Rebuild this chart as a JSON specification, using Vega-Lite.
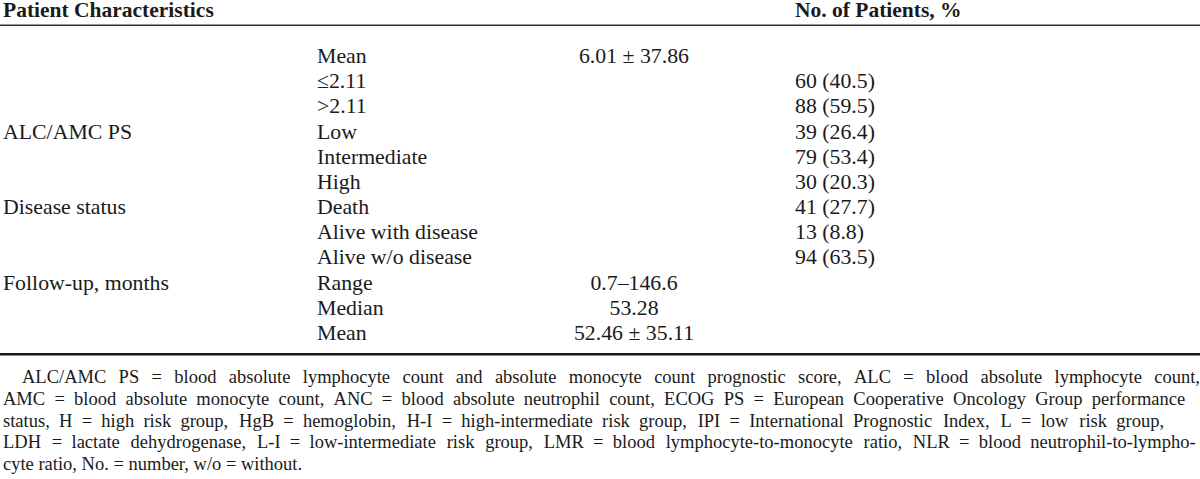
{
  "$schema": "https://vega.github.io/schema/vega-lite/v6.json",
  "width": 1200,
  "height": 479,
  "autosize": {"type": "none"},
  "padding": 0,
  "background": "white",
  "config": {"view": {"stroke": null}},
  "datasets": {
    "header": [
      {"row": 0, "col": 1, "text": "Patient Characteristics"},
      {"row": 0, "col": 4, "text": "No. of Patients, %"}
    ],
    "body": [
      {"row": 1, "col": 2, "text": "Mean"},
      {"row": 1, "col": 3, "text": "6.01 ± 37.86"},
      {"row": 2, "col": 2, "text": "≤2.11"},
      {"row": 2, "col": 4, "text": "60 (40.5)"},
      {"row": 3, "col": 2, "text": ">2.11"},
      {"row": 3, "col": 4, "text": "88 (59.5)"},
      {"row": 4, "col": 1, "text": "ALC/AMC PS"},
      {"row": 4, "col": 2, "text": "Low"},
      {"row": 4, "col": 4, "text": "39 (26.4)"},
      {"row": 5, "col": 2, "text": "Intermediate"},
      {"row": 5, "col": 4, "text": "79 (53.4)"},
      {"row": 6, "col": 2, "text": "High"},
      {"row": 6, "col": 4, "text": "30 (20.3)"},
      {"row": 7, "col": 1, "text": "Disease status"},
      {"row": 7, "col": 2, "text": "Death"},
      {"row": 7, "col": 4, "text": "41 (27.7)"},
      {"row": 8, "col": 2, "text": "Alive with disease"},
      {"row": 8, "col": 4, "text": "13 (8.8)"},
      {"row": 9, "col": 2, "text": "Alive w/o disease"},
      {"row": 9, "col": 4, "text": "94 (63.5)"},
      {"row": 10, "col": 1, "text": "Follow-up, months"},
      {"row": 10, "col": 2, "text": "Range"},
      {"row": 10, "col": 3, "text": "0.7–146.6"},
      {"row": 11, "col": 2, "text": "Median"},
      {"row": 11, "col": 3, "text": "53.28"},
      {"row": 12, "col": 2, "text": "Mean"},
      {"row": 12, "col": 3, "text": "52.46 ± 35.11"}
    ],
    "rules": [
      {"row": 0.18, "kind": "thin"},
      {"row": 12.33, "kind": "thick"}
    ],
    "notes": [
      {"row": 13, "col": 1, "first": true, "text": "ALC/AMC\u2002\u2006PS\u2002\u2006=\u2002\u2006blood\u2002\u2006absolute\u2002\u2006lymphocyte\u2002\u2006count\u2002\u2006and\u2002\u2006absolute\u2002\u2006monocyte\u2002\u2006count\u2002\u2006prognostic\u2002\u2006score,\u2002\u2006ALC\u2002\u2006=\u2002\u2006blood\u2002\u2006absolute\u2002\u2006lymphocyte\u2002\u2006count,"},
      {"row": 14, "col": 1, "first": false, "text": "AMC\u2002=\u2002blood\u2002absolute\u2002monocyte\u2002count,\u2002ANC\u2002=\u2002blood\u2002absolute\u2002neutrophil\u2002count,\u2002ECOG\u2002PS\u2002=\u2002European\u2002Cooperative\u2002Oncology\u2002Group\u2002performance"},
      {"row": 15, "col": 1, "first": false, "text": "status,\u2002H\u2002=\u2002high\u2002risk\u2002group,\u2002\u200aHgB\u2002=\u2002hemoglobin,\u2002\u200aH-I\u2002=\u2002high-intermediate\u2002risk\u2002group,\u2002\u200aIPI\u2002=\u2002International\u2002Prognostic\u2002\u200aIndex,\u2002\u200aL\u2002=\u2002low\u2002\u200arisk\u2002group,"},
      {"row": 16, "col": 1, "first": false, "text": "LDH\u2002\u200a=\u2002lactate\u2002\u200adehydrogenase,\u2002\u200aL-I\u2002=\u2002low-intermediate\u2002\u200arisk\u2002\u200agroup,\u2002\u200aLMR\u2002=\u2002blood\u2002\u200alymphocyte-to-monocyte\u2002\u200aratio,\u2002\u200aNLR\u2002=\u2002blood\u2002neutrophil-to-lympho-"},
      {"row": 17, "col": 1, "first": false, "text": "cyte ratio, No. = number, w/o = without."}
    ]
  },
  "encoding": {
    "x": {"field": "col", "type": "quantitative", "axis": null,
          "scale": {"domain": [1, 2, 3, 4], "range": [3, 317, 634, 795], "zero": false, "nice": false}},
    "y": {"field": "row", "type": "quantitative", "axis": null,
          "scale": {"domain": [0, 1, 12, 13, 17], "range": [17, 63, 340, 383, 470], "zero": false, "nice": false}},
    "text": {"field": "text", "type": "nominal"}
  },
  "layer": [
    {
      "data": {"name": "header"},
      "mark": {"type": "text", "align": "left", "baseline": "alphabetic", "font": "Liberation Serif", "fontSize": 21.5, "fontWeight": "bold", "color": "#1a1a1a"}
    },
    {
      "data": {"name": "body"},
      "transform": [{"filter": "datum.col != 3"}],
      "mark": {"type": "text", "align": "left", "baseline": "alphabetic", "font": "Liberation Serif", "fontSize": 21.8, "color": "#1a1a1a"}
    },
    {
      "data": {"name": "body"},
      "transform": [{"filter": "datum.col == 3"}],
      "mark": {"type": "text", "align": "center", "baseline": "alphabetic", "font": "Liberation Serif", "fontSize": 21.8, "color": "#1a1a1a"}
    },
    {
      "data": {"name": "rules"},
      "transform": [{"filter": "datum.kind == 'thin'"}],
      "mark": {"type": "rule", "color": "#333333", "strokeWidth": 1.4},
      "encoding": {"x": null, "text": null}
    },
    {
      "data": {"name": "rules"},
      "transform": [{"filter": "datum.kind == 'thick'"}],
      "mark": {"type": "rule", "color": "#1a1a1a", "strokeWidth": 2.6},
      "encoding": {"x": null, "text": null}
    },
    {
      "data": {"name": "notes"},
      "transform": [{"filter": "datum.first"}],
      "mark": {"type": "text", "align": "left", "baseline": "alphabetic", "dx": 19, "font": "Liberation Serif", "fontSize": 18.5, "color": "#1a1a1a"}
    },
    {
      "data": {"name": "notes"},
      "transform": [{"filter": "!datum.first"}],
      "mark": {"type": "text", "align": "left", "baseline": "alphabetic", "font": "Liberation Serif", "fontSize": 18.5, "color": "#1a1a1a"}
    }
  ]
}
